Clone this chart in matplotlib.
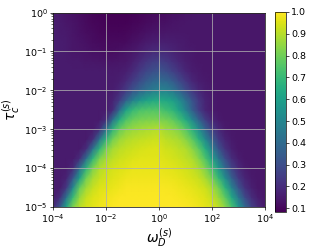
import numpy as np
import matplotlib
matplotlib.use('Agg')
import matplotlib.pyplot as plt
from matplotlib.colors import Normalize

# grid of the heatmap (log10 of omega_D^(s) and tau_c^(s)), quarter decades
log_omega = [-4.0, -3.75, -3.5, -3.25, -3.0, -2.75, -2.5, -2.25, -2.0, -1.75, -1.5,
             -1.25, -1.0, -0.75, -0.5, -0.25, 0.0, 0.25, 0.5, 0.75, 1.0, 1.25,
             1.5, 1.75, 2.0, 2.25, 2.5, 2.75, 3.0, 3.25, 3.5, 3.75, 4.0]
log_tau = [-5.0, -4.75, -4.5, -4.25, -4.0, -3.75, -3.5, -3.25, -3.0, -2.75, -2.5,
           -2.25, -2.0, -1.75, -1.5, -1.25, -1.0, -0.75, -0.5, -0.25, 0.0]

# values, one row per tau level (bottom to top)
r_m500 = [0.18, 0.33, 0.62, 0.82, 0.90, 0.94, 0.96, 0.975, 0.985, 0.995, 1.0, 1.0, 1.0, 1.0, 1.0, 1.0, 1.0, 1.0, 1.0, 0.997, 0.993, 0.986, 0.978, 0.964, 0.947, 0.909, 0.842, 0.733, 0.573, 0.398, 0.262, 0.186, 0.15]
r_m475 = [0.15, 0.20, 0.43, 0.70, 0.85, 0.92, 0.95, 0.967, 0.98, 0.989, 0.995, 0.995, 0.995, 0.995, 0.995, 0.995, 0.995, 0.995, 0.995, 0.99, 0.985, 0.977, 0.966, 0.95, 0.92, 0.86, 0.77, 0.63, 0.445, 0.29, 0.20, 0.157, 0.14]
r_m450 = [0.15, 0.15, 0.23, 0.51, 0.78, 0.87, 0.92, 0.95, 0.96, 0.97, 0.98, 0.99, 0.99, 0.99, 0.99, 0.99, 0.99, 0.99, 0.986, 0.981, 0.973, 0.964, 0.947, 0.93, 0.88, 0.80, 0.67, 0.49, 0.32, 0.21, 0.165, 0.14, 0.14]
r_m425 = [0.15, 0.15, 0.17, 0.32, 0.59, 0.80, 0.88, 0.92, 0.94, 0.955, 0.967, 0.975, 0.98, 0.98, 0.98, 0.98, 0.98, 0.978, 0.973, 0.965, 0.956, 0.941, 0.924, 0.881, 0.81, 0.694, 0.528, 0.358, 0.237, 0.175, 0.145, 0.14, 0.14]
r_m400 = [0.15, 0.15, 0.15, 0.19, 0.41, 0.67, 0.82, 0.89, 0.92, 0.94, 0.95, 0.96, 0.968, 0.97, 0.97, 0.97, 0.97, 0.963, 0.958, 0.949, 0.937, 0.92, 0.886, 0.823, 0.723, 0.572, 0.402, 0.266, 0.189, 0.152, 0.14, 0.14, 0.14]
r_m375 = [0.15, 0.15, 0.15, 0.15, 0.20, 0.41, 0.68, 0.82, 0.88, 0.91, 0.93, 0.94, 0.95, 0.958, 0.96, 0.96, 0.96, 0.95, 0.941, 0.93, 0.914, 0.889, 0.833, 0.745, 0.609, 0.438, 0.291, 0.20, 0.158, 0.14, 0.14, 0.14, 0.14]
r_m350 = [0.15, 0.15, 0.15, 0.15, 0.15, 0.20, 0.42, 0.68, 0.815, 0.875, 0.904, 0.919, 0.931, 0.94, 0.948, 0.95, 0.95, 0.934, 0.926, 0.91, 0.893, 0.845, 0.772, 0.65, 0.48, 0.318, 0.213, 0.164, 0.14, 0.14, 0.14, 0.14, 0.14]
r_m325 = [0.15, 0.15, 0.15, 0.15, 0.15, 0.15, 0.20, 0.425, 0.677, 0.80, 0.858, 0.886, 0.90, 0.912, 0.92, 0.928, 0.93, 0.91, 0.894, 0.879, 0.838, 0.772, 0.666, 0.511, 0.352, 0.236, 0.175, 0.146, 0.14, 0.14, 0.14, 0.14, 0.14]
r_m300 = [0.15, 0.15, 0.15, 0.15, 0.15, 0.15, 0.15, 0.20, 0.434, 0.677, 0.785, 0.835, 0.86, 0.872, 0.884, 0.892, 0.90, 0.87, 0.854, 0.823, 0.765, 0.674, 0.535, 0.38, 0.256, 0.185, 0.151, 0.14, 0.14, 0.14, 0.14, 0.14, 0.14]
r_m275 = [0.15, 0.15, 0.15, 0.15, 0.15, 0.15, 0.15, 0.15, 0.20, 0.415, 0.641, 0.742, 0.788, 0.807, 0.814, 0.818, 0.814, 0.807, 0.779, 0.727, 0.644, 0.516, 0.37, 0.252, 0.183, 0.151, 0.14, 0.14, 0.14, 0.14, 0.14, 0.14, 0.14]
r_m250 = [0.15, 0.15, 0.15, 0.15, 0.15, 0.15, 0.15, 0.15, 0.15, 0.194, 0.388, 0.60, 0.693, 0.733, 0.749, 0.751, 0.747, 0.72, 0.687, 0.611, 0.495, 0.359, 0.248, 0.177, 0.151, 0.14, 0.14, 0.14, 0.14, 0.14, 0.14, 0.14, 0.14]
r_m225 = [0.15, 0.15, 0.15, 0.15, 0.15, 0.15, 0.15, 0.15, 0.15, 0.17, 0.24, 0.36, 0.47, 0.55, 0.60, 0.63, 0.64, 0.63, 0.60, 0.53, 0.43, 0.32, 0.23, 0.175, 0.15, 0.14, 0.14, 0.14, 0.14, 0.14, 0.14, 0.14, 0.14]
r_m200 = [0.15, 0.15, 0.15, 0.15, 0.15, 0.15, 0.15, 0.15, 0.15, 0.155, 0.18, 0.24, 0.31, 0.37, 0.42, 0.46, 0.49, 0.49, 0.45, 0.38, 0.30, 0.23, 0.18, 0.155, 0.145, 0.14, 0.14, 0.14, 0.14, 0.14, 0.14, 0.14, 0.14]
r_m175 = [0.15, 0.15, 0.15, 0.15, 0.15, 0.15, 0.15, 0.15, 0.15, 0.15, 0.16, 0.19, 0.24, 0.29, 0.34, 0.38, 0.40, 0.39, 0.35, 0.29, 0.23, 0.18, 0.155, 0.145, 0.14, 0.14, 0.14, 0.14, 0.14, 0.14, 0.14, 0.14, 0.14]
r_m150 = [0.15, 0.15, 0.15, 0.15, 0.15, 0.15, 0.15, 0.15, 0.15, 0.145, 0.15, 0.16, 0.19, 0.23, 0.27, 0.30, 0.32, 0.30, 0.26, 0.22, 0.18, 0.155, 0.145, 0.14, 0.14, 0.14, 0.14, 0.14, 0.14, 0.14, 0.14, 0.14, 0.14]
r_m125 = [0.155, 0.15, 0.15, 0.145, 0.145, 0.14, 0.14, 0.135, 0.13, 0.13, 0.135, 0.14, 0.16, 0.19, 0.22, 0.245, 0.255, 0.24, 0.21, 0.18, 0.16, 0.145, 0.14, 0.14, 0.14, 0.14, 0.14, 0.14, 0.14, 0.14, 0.14, 0.14, 0.14]
r_m100 = [0.16, 0.155, 0.15, 0.14, 0.135, 0.13, 0.125, 0.12, 0.115, 0.115, 0.12, 0.13, 0.14, 0.155, 0.175, 0.19, 0.195, 0.19, 0.175, 0.16, 0.15, 0.145, 0.14, 0.14, 0.14, 0.14, 0.14, 0.14, 0.14, 0.14, 0.14, 0.14, 0.14]
r_m075 = [0.16, 0.155, 0.15, 0.14, 0.13, 0.125, 0.115, 0.11, 0.105, 0.105, 0.105, 0.11, 0.12, 0.13, 0.145, 0.155, 0.16, 0.16, 0.155, 0.15, 0.145, 0.14, 0.14, 0.14, 0.14, 0.14, 0.14, 0.14, 0.14, 0.14, 0.14, 0.14, 0.14]
r_m050 = [0.16, 0.15, 0.145, 0.135, 0.125, 0.115, 0.11, 0.10, 0.095, 0.095, 0.095, 0.10, 0.105, 0.115, 0.125, 0.13, 0.135, 0.14, 0.14, 0.14, 0.14, 0.14, 0.14, 0.14, 0.14, 0.14, 0.14, 0.14, 0.14, 0.14, 0.14, 0.14, 0.14]
r_m025 = [0.155, 0.15, 0.14, 0.13, 0.12, 0.11, 0.10, 0.095, 0.09, 0.09, 0.09, 0.09, 0.095, 0.10, 0.11, 0.115, 0.12, 0.125, 0.13, 0.135, 0.14, 0.14, 0.14, 0.14, 0.14, 0.14, 0.14, 0.14, 0.14, 0.14, 0.14, 0.14, 0.14]
r_p000 = [0.155, 0.145, 0.135, 0.125, 0.115, 0.105, 0.095, 0.09, 0.087, 0.085, 0.085, 0.085, 0.09, 0.095, 0.10, 0.105, 0.11, 0.115, 0.12, 0.125, 0.13, 0.135, 0.14, 0.14, 0.14, 0.14, 0.14, 0.14, 0.14, 0.14, 0.14, 0.14, 0.14]

x_ticks = [1e-4, 1e-2, 1e0, 1e2, 1e4]
y_ticks = [1e-5, 1e-4, 1e-3, 1e-2, 1e-1, 1e0]
cbar_ticks = [0.1, 0.2, 0.3, 0.4, 0.5, 0.6, 0.7, 0.8, 0.9, 1.0]
v_min, v_max = 0.083, 1.0

rows = [r_m500, r_m475, r_m450, r_m425, r_m400, r_m375, r_m350, r_m325,
        r_m300, r_m275, r_m250, r_m225, r_m200, r_m175, r_m150, r_m125,
        r_m100, r_m075, r_m050, r_m025, r_p000]
for k, r in enumerate(rows):
    assert len(r) == len(log_omega), (k, len(r))
values = np.array(rows)

fig = plt.figure(figsize=(3.32, 2.5), dpi=100)
ax = fig.add_axes([0.1596, 0.172, 0.6386, 0.7776])
cax = fig.add_axes([0.829, 0.152, 0.032, 0.800])

X, Y = np.meshgrid(10.0 ** np.array(log_omega), 10.0 ** np.array(log_tau))
mesh = ax.pcolormesh(X, Y, values, shading='gouraud', cmap='viridis',
                     norm=Normalize(v_min, v_max))
ax.set_xscale('log')
ax.set_yscale('log')
ax.set_xlim(1e-4, 1e4)
ax.set_ylim(1e-5, 1e0)
ax.set_xticks(x_ticks)
ax.set_yticks(y_ticks)
ax.tick_params(which='major', labelsize=6.8, length=2.5, width=0.5, pad=1.5)
ax.tick_params(which='minor', length=1.4, width=0.4)
ax.grid(True, which='major', color='#b0b0b0', linewidth=0.6, alpha=0.9)
for s in ax.spines.values():
    s.set_linewidth(0.5)

ax.set_xlabel(r'$\omega_D^{(s)}$', fontsize=10, labelpad=1)
ax.set_ylabel(r'$\tau_c^{(s)}$', fontsize=10)
ax.yaxis.set_label_coords(-0.148, 0.5)

cb = fig.colorbar(mesh, cax=cax, ticks=cbar_ticks)
cb.ax.tick_params(labelsize=6.8, length=2.5, width=0.5, pad=1.5)
cb.outline.set_linewidth(0.5)

fig.savefig('out.png', dpi=100)
